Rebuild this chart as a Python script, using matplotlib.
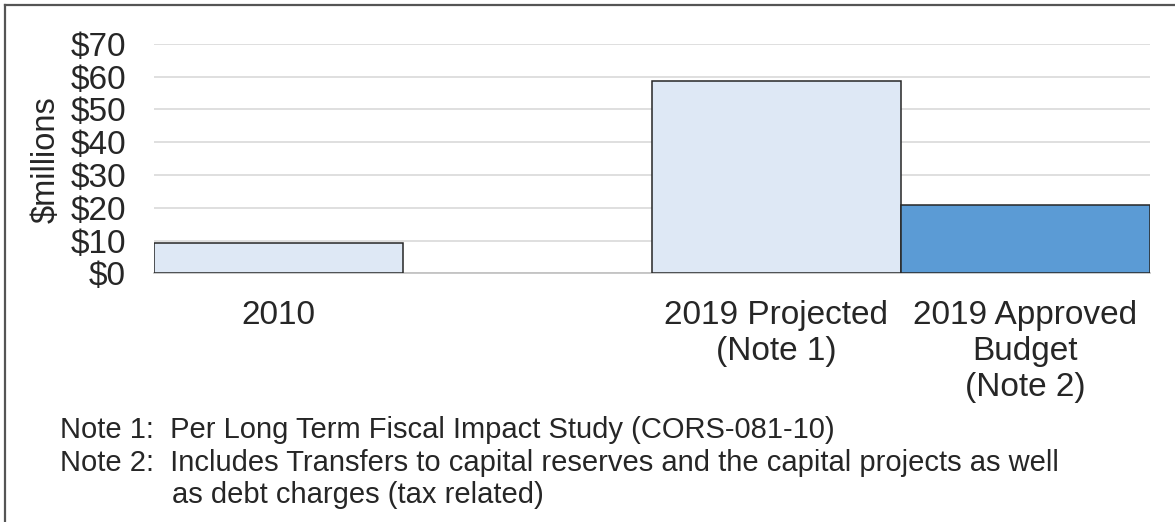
import matplotlib
matplotlib.use("Agg")
import matplotlib.pyplot as plt
from matplotlib.lines import Line2D
import numpy as np

plt.rcParams['font.family'] = ['Liberation Sans', 'DejaVu Sans']

# data ($ millions)
labels = ["2010", "", "2019 Projected\n(Note 1)", "2019 Approved\nBudget\n(Note 2)"]
values = [9.3, 0, 58.8, 20.8]
colors = ["#DEE8F5", "#DEE8F5", "#DEE8F5", "#5B9BD5"]
yticks = [0, 10, 20, 30, 40, 50, 60, 70]
notes = [
    "Note 1:  Per Long Term Fiscal Impact Study (CORS-081-10)",
    "Note 2:  Includes Transfers to capital reserves and the capital projects as well",
]
note_cont = "as debt charges (tax related)"

txt = "#262626"

fig = plt.figure(figsize=(11.75, 5.22), dpi=100)
ax = fig.add_axes([0.1308, 0.4764, 0.8479, 0.4395])

x = np.arange(len(values))
shown = [i for i in x if values[i] > 0]
ax.bar([x[i] for i in shown], [values[i] for i in shown], width=1.0,
       color=[colors[i] for i in shown], edgecolor="#262626", linewidth=1.1, zorder=3)

ax.set_xlim(-0.5, len(values) - 0.5)
ax.set_ylim(0, 70)
ax.set_yticks(yticks)
ax.set_yticklabels(["$%d" % v for v in yticks], fontsize=24, color=txt)
ax.set_xticks(x)
ax.set_xticklabels(labels, fontsize=24, color=txt, linespacing=1.22)
ax.tick_params(axis="y", length=0, pad=20)
ax.tick_params(axis="x", length=0, pad=19)
ax.grid(axis="y", color="#D9D9D9", linewidth=1.2, zorder=0)
for s in ["top", "right", "left"]:
    ax.spines[s].set_visible(False)
ax.spines["bottom"].set_color("#BFBFBF")
ax.spines["bottom"].set_linewidth(1.2)

fig.text(46 / 1175, 1 - 160 / 522, "$millions", rotation=90, fontsize=23.5,
         color=txt, ha="center", va="center")

# notes under the chart
fig.text(60 / 1175, 1 - 438 / 522, notes[0], fontsize=21, color=txt, va="baseline")
fig.text(60 / 1175, 1 - 471 / 522, notes[1], fontsize=21, color=txt, va="baseline")
fig.text(172 / 1175, 1 - 503 / 522, note_cont, fontsize=21, color=txt, va="baseline")

# outer frame (only left and top visible in the crop)
fig.add_artist(Line2D([5 / 1175, 5 / 1175], [0, 1 - 5 / 522], color="#555555", linewidth=1.6))
fig.add_artist(Line2D([5 / 1175, 1], [1 - 5 / 522, 1 - 5 / 522], color="#555555", linewidth=1.6))

fig.savefig("out.png", dpi=100)
